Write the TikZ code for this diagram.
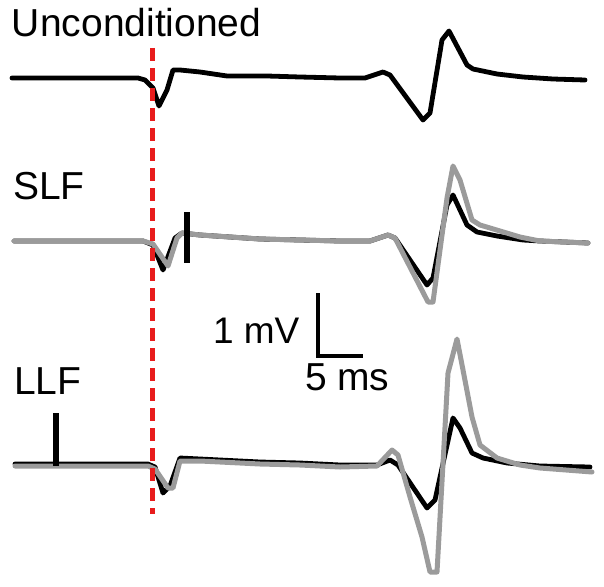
\documentclass[tikz,border=0pt]{standalone}
\usepackage{fontspec}
\setmainfont{Liberation Sans}
\definecolor{tracegray}{RGB}{155,155,155}
\definecolor{stimred}{RGB}{232,28,28}
\begin{document}
\begin{tikzpicture}[x=1pt,y=-1pt,
  lbl/.style={anchor=base west,inner sep=0pt,outer sep=0pt,font=\fontsize{39}{42}\selectfont},
  smalllbl/.style={lbl,font=\fontsize{37}{40}\selectfont},
  blacktrace/.style={line width=4.8pt,black,line join=round,line cap=round},
  graytrace/.style={line width=5pt,tracegray,line join=round,line cap=round},
  stimbar/.style={line width=6.5pt,black},
  scalebar/.style={line width=4.8pt,black},
  marker/.style={line width=5pt,stimred,dash pattern=on 13pt off 7pt}]
\useasboundingbox (0,0) rectangle (604,586);
% labels
\node[lbl] (unc) at (12,37) {Unconditioned};
\node[lbl] (slf) at (13,199) {SLF};
\node[lbl] (llf) at (14,394) {LLF};
\node[smalllbl] (mv) at (213,343) {1 mV};
\node[lbl] (ms) at (305,390) {5 ms};
% Unconditioned trace
\draw[blacktrace] (12,78) -- (138,78) -- (145,80) -- (153,88) -- (159,106) -- (167,90) -- (173,70) -- (180,70) -- (200,72) -- (227,76) -- (267,76) -- (300,77) -- (340,78) -- (365,78) -- (383,72) -- (390,75) -- (423,120) -- (430,113) -- (442,40) -- (449,31) -- (467,65) -- (473,69) -- (497,74) -- (523,77) -- (553,79) -- (585,80);
% SLF traces
\draw[blacktrace] (14,241) -- (143,241) -- (153,245) -- (163,270) -- (175,238) -- (182,233) -- (200,235) -- (260,239) -- (300,240) -- (340,241) -- (370,241) -- (388,235) -- (395,238) -- (427,285) -- (433,278) -- (447,205) -- (453,195) -- (467,225) -- (477,232) -- (497,236) -- (523,240) -- (540,241) -- (588,243);
\draw[graytrace] (14,241) -- (143,241) -- (153,244) -- (168,266) -- (177,238) -- (182,233) -- (200,235) -- (260,239) -- (300,240) -- (340,241) -- (370,241) -- (388,235) -- (395,238) -- (428,302) -- (433,302) -- (447,198) -- (453,166) -- (460,180) -- (472,220) -- (480,225) -- (520,237) -- (540,241) -- (588,243);
\coordinate (slfbartop) at (187,212);
\coordinate (slfbarbot) at (187,263);
\draw[stimbar] (slfbartop) -- (slfbarbot);
% LLF traces
\draw[blacktrace] (15,464) -- (148,464) -- (155,467) -- (163,493) -- (170,486) -- (180,458) -- (200,459) -- (260,462) -- (300,463) -- (340,465) -- (377,465) -- (390,460) -- (398,465) -- (427,508) -- (435,500) -- (453,418) -- (460,428) -- (472,453) -- (483,458) -- (507,463) -- (540,466) -- (590,467);
\draw[graytrace] (15,466) -- (148,466) -- (155,469) -- (168,488) -- (173,488) -- (180,461) -- (200,461) -- (260,464) -- (300,465) -- (340,467) -- (377,466) -- (392,450) -- (398,455) -- (410,497) -- (422,537) -- (430,572) -- (437,572) -- (448,373) -- (457,339) -- (463,370) -- (472,417) -- (480,445) -- (497,458) -- (520,465) -- (540,468) -- (592,472);
\coordinate (llfbartop) at (56,413);
\coordinate (llfbarbot) at (56,466);
\draw[stimbar] (llfbartop) -- (llfbarbot);
% scale bar
\coordinate (sbtop) at (318,293);
\coordinate (sbcorner) at (318,356);
\coordinate (sbright) at (363,356);
\draw[scalebar] (sbtop) -- (sbcorner) -- (sbright);
% stimulus marker
\coordinate (redtop) at (152,48);
\coordinate (redbot) at (152,514);
\draw[marker] (redtop) -- (redbot);
\end{tikzpicture}
\end{document}
